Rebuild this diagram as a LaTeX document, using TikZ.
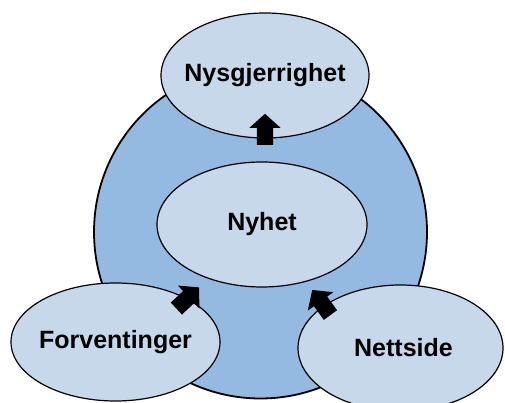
\documentclass[tikz,border=0pt]{standalone}
\usepackage{fontspec}
\setmainfont{Liberation Sans}
\usetikzlibrary{shapes.geometric,shapes.arrows}

\definecolor{ringblue}{RGB}{149,186,226}
\definecolor{bubbleblue}{RGB}{199,216,235}

\tikzset{
  bubble/.style={ellipse, draw=black, line width=1.2pt, fill=bubbleblue,
    inner sep=0pt, minimum width=#1},
  caption/.style={font=\bfseries\fontsize{25}{30}\selectfont, text=black},
  blockarrow/.style={single arrow, fill=black, draw=none, inner xsep=0pt,
    inner ysep=8pt, minimum height=31pt, single arrow head extend=7.5pt,
    single arrow tip angle=96}
}

\begin{document}
\begin{tikzpicture}[x=1pt,y=1pt]
  \useasboundingbox (0,0) rectangle (505,403);

  % large background circle
  \node[circle, draw=black, line width=1.8pt, fill=ringblue,
        minimum size=333pt, inner sep=0pt] (ring) at (260.5,171) {};

  % centre and outer ellipses
  \node[bubble=210pt, minimum height=125pt,
        label={[caption]center:Nyhet}] (nyhet) at (262,178.5) {};
  \node[bubble=208pt, minimum height=125pt,
        label={[caption]center:Nysgjerrighet}] (nys) at (265,327.5) {};
  \node[bubble=209pt, minimum height=118pt,
        label={[caption]center:Forventinger}] (forv) at (115.5,61) {};
  \node[bubble=205pt, minimum height=126pt,
        label={[caption, xshift=3pt]center:Nettside}] (nett) at (400.5,55) {};

  % block arrows
  \node[blockarrow, rotate=90] (upArrow) at (265,270) {};
  \node[blockarrow, rotate=43] (leftArrow) at (185,102.5) {};
  \node[blockarrow, rotate=126] (rightArrow) at (323.5,97.5) {};
\end{tikzpicture}
\end{document}
